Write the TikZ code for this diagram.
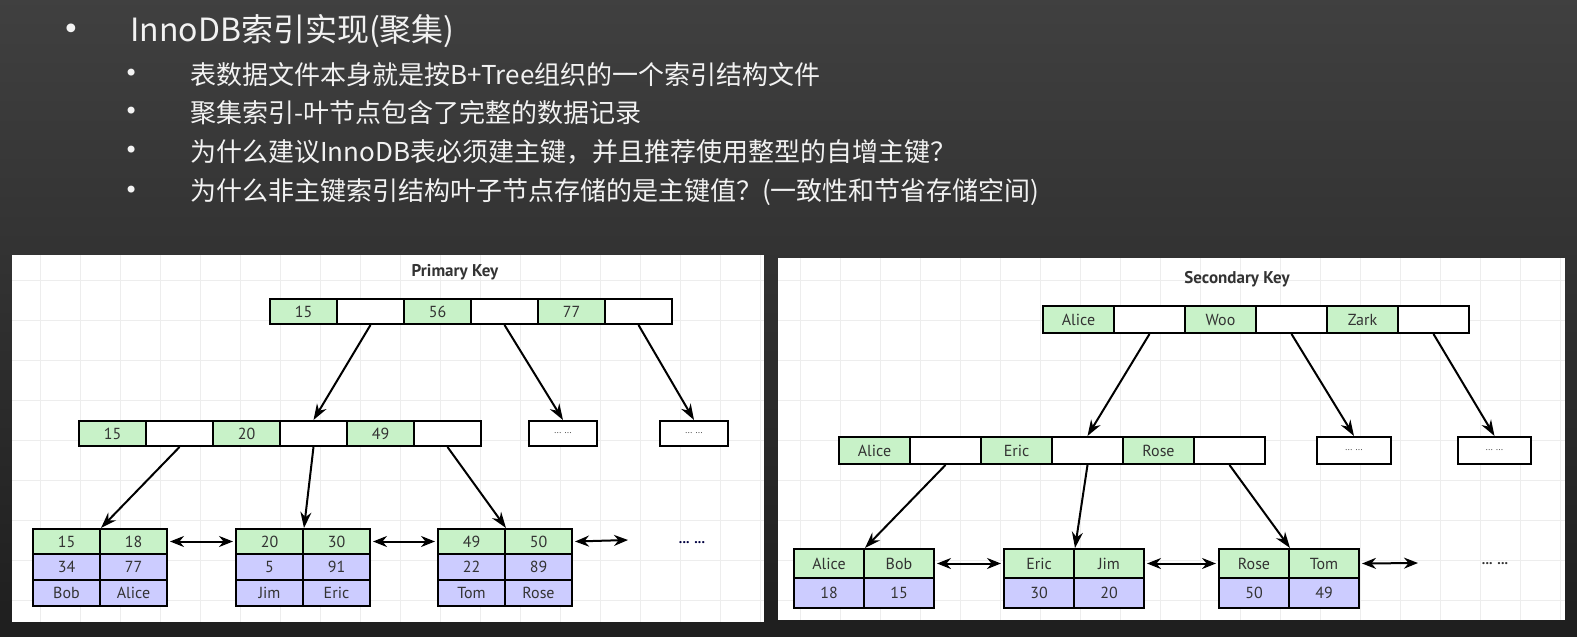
\documentclass[tikz,border=0pt]{standalone}
\usepackage{fontspec}
\setmainfont{PT Sans}
\newfontfamily\cjk{Noto Sans CJK SC}
\newfontfamily\dv{DejaVu Sans}
\usetikzlibrary{arrows.meta}
\definecolor{kg}{HTML}{C8F2C8}
\definecolor{kp}{HTML}{CCCCFF}
\definecolor{txt}{HTML}{F2F2F2}
\begin{document}
\begin{tikzpicture}[x=1pt,y=-1pt,
  cell/.style={draw,line width=2pt,minimum height=25pt,inner sep=0pt,anchor=north west,font=\fontsize{16}{16}\selectfont,text=black!80},
  gc/.style={cell,fill=kg}, pc/.style={cell,fill=kp}, wc/.style={cell,fill=white},
  arr/.style={-{Stealth[length=16pt,width=11pt]},line width=2pt},
  darr/.style={{Stealth[length=14pt,width=11pt]}-{Stealth[length=14pt,width=11pt]},line width=2pt},
  dots/.style={wc,font=\fontsize{9}{9}\selectfont},
  head/.style={text=txt,anchor=west,inner sep=0pt}]
\useasboundingbox (0,0) rectangle (1577,637);
\shade[top color=black!75,bottom color=black!88] (0,0) rectangle (1577,637);
% panels
\fill[white] (12,255) rectangle (764,622);
\fill[white] (778,258) rectangle (1565,620);
\foreach \x in {40,80,...,760} \draw[black!7,line width=0.8pt] (\x,255) -- (\x,622);
\foreach \y in {280,320,...,620} \draw[black!7,line width=0.8pt] (12,\y) -- (764,\y);
\foreach \x in {800,840,...,1560} \draw[black!7,line width=0.8pt] (\x,258) -- (\x,620);
\foreach \y in {280,320,...,620} \draw[black!7,line width=0.8pt] (778,\y) -- (1565,\y);
% header
\node[head,text=txt!90,font=\dv\fontsize{30}{30}\selectfont] (b0) at (62,32) {•};
\node[head,font=\cjk\fontsize{32}{32}\selectfont] (t0) at (130,31) {InnoDB索引实现(聚集)};
\foreach \y/\t [count=\i] in {75/表数据文件本身就是按B+Tree组织的一个索引结构文件,113/聚集索引-叶节点包含了完整的数据记录,152/为什么建议InnoDB表必须建主键，并且推荐使用整型的自增主键？,192/为什么非主键索引结构叶子节点存储的是主键值？(一致性和节省存储空间)}{
  \node[head,text=txt!90,font=\dv\fontsize{24}{24}\selectfont] (sb\i) at (124,\y) {•};
  \node[head,font=\cjk\fontsize{26}{26}\selectfont] (st\i) at (190,\y) {\t};
}
% ---------- Primary key ----------
\node[font=\bfseries\fontsize{17}{17}\selectfont,text=black!80] (ptitle) at (455,272) {Primary Key};
\foreach \i/\s/\t in {1/gc/15,2/wc/,3/gc/56,4/wc/,5/gc/77,6/wc/}
  \node[\s,minimum width=67pt] (lr\i) at ({269+67*(\i-1)},298) {\t};
\foreach \i/\s/\t in {1/gc/15,2/wc/,3/gc/20,4/wc/,5/gc/49,6/wc/}
  \node[\s,minimum width=67pt] (lm\i) at ({78+67*(\i-1)},420) {\t};
\node[dots,minimum width=68pt] (ld1) at (528,420) {... ...};
\node[dots,minimum width=68pt] (ld2) at (659,420) {... ...};
\foreach \n/\x/\a/\b/\c/\d/\e/\f in {la/32/15/18/34/77/Bob/Alice,lb/235/20/30/5/91/Jim/Eric,lc/437/49/50/22/89/Tom/Rose}{
  \node[gc,minimum width=67pt] (\n1) at (\x,528) {\a};
  \node[gc,minimum width=67pt] (\n2) at (\x+67,528) {\b};
  \node[pc,minimum width=67pt,minimum height=26pt] (\n3) at (\x,553) {\c};
  \node[pc,minimum width=67pt,minimum height=26pt] (\n4) at (\x+67,553) {\d};
  \node[pc,minimum width=67pt,minimum height=26pt] (\n5) at (\x,579) {\e};
  \node[pc,minimum width=67pt,minimum height=26pt] (\n6) at (\x+67,579) {\f};
}
\draw[arr] (lr2.south) -- (lm4.north);
\draw[arr] (lr4.south) -- (ld1.north);
\draw[arr] (lr6.south) -- (ld2.north);
\draw[arr] (lm2.south) -- (la1.north east);
\draw[arr] (lm4.south) -- (lb1.north east);
\draw[arr] (lm6.south) -- (lc1.north east);
\coordinate (lend) at (628,540);
\draw[darr] ([xshift=2pt]la2.east) -- ([xshift=-2pt]lb1.west);
\draw[darr] ([xshift=2pt]lb2.east) -- ([xshift=-2pt]lc1.west);
\draw[darr] ([xshift=2pt]lc2.east) -- (lend);
\node[font=\bfseries\fontsize{14}{14}\selectfont,text=black!75!blue] (ldots) at (692,543) {... ...};
% ---------- Secondary key ----------
\node[font=\bfseries\fontsize{17}{17}\selectfont,text=black!80] (stitle) at (1237,279) {Secondary Key};
\foreach \i/\s/\t in {1/gc/Alice,2/wc/,3/gc/Woo,4/wc/,5/gc/Zark,6/wc/}
  \node[\s,minimum width=71pt,minimum height=27pt] (rr\i) at ({1042+71*(\i-1)},305) {\t};
\foreach \i/\s/\t in {1/gc/Alice,2/wc/,3/gc/Eric,4/wc/,5/gc/Rose,6/wc/}
  \node[\s,minimum width=71pt,minimum height=27pt] (rm\i) at ({838+71*(\i-1)},436) {\t};
\node[dots,minimum width=74pt,minimum height=27pt] (rd1) at (1316,436) {... ...};
\node[dots,minimum width=73pt,minimum height=27pt] (rd2) at (1457,436) {... ...};
\foreach \n/\x/\a/\b/\c/\d in {ra/793/Alice/Bob/18/15,rb/1003/Eric/Jim/30/20,rc/1218/Rose/Tom/50/49}{
  \node[gc,minimum width=70pt,minimum height=29pt] (\n1) at (\x,548) {\a};
  \node[gc,minimum width=70pt,minimum height=29pt] (\n2) at (\x+70,548) {\b};
  \node[pc,minimum width=70pt,minimum height=30pt] (\n3) at (\x,577) {\c};
  \node[pc,minimum width=70pt,minimum height=30pt] (\n4) at (\x+70,577) {\d};
}
\draw[arr] (rr2.south) -- (rm4.north);
\draw[arr] (rr4.south) -- (rd1.north);
\draw[arr] (rr6.south) -- (rd2.north);
\draw[arr] (rm2.south) -- (ra1.north east);
\draw[arr] (rm4.south) -- (rb1.north east);
\draw[arr] (rm6.south) -- (rc1.north east);
\coordinate (rend) at (1418,563);
\draw[darr] ([xshift=2pt]ra2.east) -- ([xshift=-2pt]rb1.west);
\draw[darr] ([xshift=2pt]rb2.east) -- ([xshift=-2pt]rc1.west);
\draw[darr] ([xshift=2pt]rc2.east) -- (rend);
\node[font=\bfseries\fontsize{14}{14}\selectfont,text=black!80] (rdots) at (1495,564) {... ...};
\end{tikzpicture}
\end{document}
